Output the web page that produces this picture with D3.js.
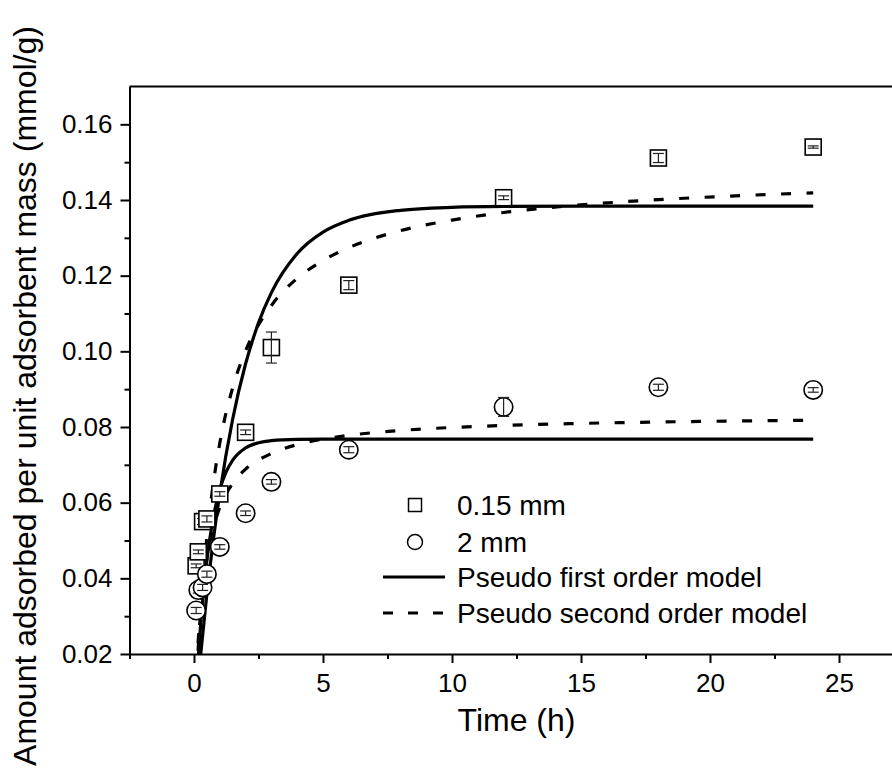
<!DOCTYPE html>
<html>
<head>
<meta charset="utf-8">
<script src="https://cdn.jsdelivr.net/npm/d3@7"></script>
<style>
  body { margin: 0; background: #fff; }
  svg text { font-family: "Liberation Sans", Arial, sans-serif; fill: #000; }
  .axis line, .axis path { stroke: #000; stroke-width: 2; }
</style>
</head>
<body>
<div id="chart"></div>
<script>
// ---------------------------------------------------------------------------
// Data
// ---------------------------------------------------------------------------

// sampling times (h), same for both particle sizes
var sampleTimes = [0.083, 0.167, 0.333, 0.5, 1, 2, 3, 6, 12, 18, 24];

// 0.15 mm particles (squares)
var fineQ   = [0.0433, 0.0470, 0.0550, 0.0557, 0.0623, 0.0786, 0.1010, 0.1175, 0.1406, 0.1511, 0.1540];
var fineErr = [0.0005, 0.0005, 0.0008, 0.0008, 0.0006, 0.0006, 0.0041, 0.0012, 0.0005, 0.0012, 0.0003];

// 2 mm particles (circles)
var coarseQ   = [0.0315, 0.0369, 0.0376, 0.0411, 0.0483, 0.0572, 0.0655, 0.0740, 0.0853, 0.0905, 0.0898];
var coarseErr = [0.0008, 0.0008, 0.0008, 0.0008, 0.0006, 0.0006, 0.0006, 0.0008, 0.0025, 0.0008, 0.0006];

// pseudo first order fits (solid)
var pfoFineT = [0.2, 0.25, 0.5, 0.75, 1, 1.5, 2, 2.5, 3, 4, 5, 6, 8, 10, 12, 15, 18, 24];
var pfoFineQ = [0.01565, 0.01928, 0.03587, 0.05016, 0.06245, 0.08213, 0.09671, 0.10752, 0.11552,
                0.12585, 0.13151, 0.13462, 0.13727, 0.13806, 0.13830, 0.13838, 0.13840, 0.13840];
var pfoCoarseT = [0.1, 0.25, 0.5, 0.75, 1, 1.25, 1.5, 2, 2.5, 3, 4, 5, 12, 24];
var pfoCoarseQ = [0.01233, 0.02722, 0.04478, 0.05613, 0.06345, 0.06818, 0.07124, 0.07448, 0.07583,
                  0.07640, 0.07673, 0.07680, 0.07680, 0.07680];

// pseudo second order fits (dashed)
var psoFineT = [0.1, 0.2, 0.3, 0.5, 0.75, 1, 1.5, 2, 3, 4, 5, 6, 8, 10, 12, 15, 18, 21, 24];
var psoFineQ = [0.01409, 0.02572, 0.03549, 0.05097, 0.06519, 0.07576, 0.09042, 0.10010, 0.11210, 0.11930,
                0.12400, 0.12740, 0.13190, 0.13470, 0.13670, 0.13870, 0.14010, 0.14110, 0.14190];
var psoCoarseT = [0.1, 0.15, 0.25, 0.5, 0.75, 1, 1.5, 2, 3, 4, 5, 6, 8, 10, 12, 15, 18, 21, 24];
var psoCoarseQ = [0.0161, 0.02202, 0.0312, 0.04538, 0.05349, 0.05873, 0.06511, 0.06886, 0.0730, 0.07535,
                  0.0768, 0.0778, 0.07908, 0.07987, 0.0804, 0.08095, 0.08132, 0.08158, 0.08179];

var xMajorTicks = [0, 5, 10, 15, 20, 25];
var xMinorTicks = [-2.5, 2.5, 7.5, 12.5, 17.5, 22.5];
var yMajorTicks = [0.02, 0.04, 0.06, 0.08, 0.10, 0.12, 0.14, 0.16];
var yMinorTicks = [0.03, 0.05, 0.07, 0.09, 0.11, 0.13, 0.15];

var legendLabels = ["0.15 mm", "2 mm", "Pseudo first order model", "Pseudo second order model"];

// ---------------------------------------------------------------------------
// Drawing
// ---------------------------------------------------------------------------

var W = 892, H = 771;

var xScale = d3.scaleLinear().domain([-2.5, 27.5]).range([129.5, 903.5]);
var yScale = d3.scaleLinear().domain([0.02, 0.17]).range([654, 86.5]);

var svg = d3.select("#chart").append("svg")
    .attr("width", W)
    .attr("height", H);

svg.append("defs").append("clipPath")
    .attr("id", "plot-clip")
  .append("rect")
    .attr("x", xScale(-2.5))
    .attr("y", yScale(0.17))
    .attr("width", xScale(27.5) - xScale(-2.5))
    .attr("height", yScale(0.02) - yScale(0.17));

// minor ticks first, majors with labels on top
svg.append("g")
    .attr("class", "axis")
    .attr("transform", "translate(0," + yScale(0.02) + ")")
    .call(d3.axisBottom(xScale).tickValues(xMinorTicks).tickSize(5).tickSizeOuter(0).tickFormat(""))
    .select(".domain").remove();

var xAxis = svg.append("g")
    .attr("class", "axis")
    .attr("transform", "translate(0," + yScale(0.02) + ")")
    .call(d3.axisBottom(xScale).tickValues(xMajorTicks).tickSize(9).tickSizeOuter(0).tickPadding(11));
xAxis.selectAll("text").style("font-size", "26px");

svg.append("g")
    .attr("class", "axis")
    .attr("transform", "translate(" + xScale(-2.5) + ",0)")
    .call(d3.axisLeft(yScale).tickValues(yMinorTicks).tickSize(5).tickSizeOuter(0).tickFormat(""))
    .select(".domain").remove();

var yAxis = svg.append("g")
    .attr("class", "axis")
    .attr("transform", "translate(" + xScale(-2.5) + ",0)")
    .call(d3.axisLeft(yScale).tickValues(yMajorTicks).tickSize(9).tickSizeOuter(0).tickPadding(8)
      .tickFormat(d3.format(".2f")));
yAxis.selectAll("text").style("font-size", "26px");

// top frame line
svg.append("line")
    .attr("x1", xScale(-2.5))
    .attr("x2", xScale(27.5))
    .attr("y1", yScale(0.17))
    .attr("y2", yScale(0.17))
    .attr("stroke", "#000")
    .attr("stroke-width", 2);

// axis titles
svg.append("text")
    .attr("x", (xScale(-2.5) + xScale(27.5)) / 2)
    .attr("y", 731)
    .attr("text-anchor", "middle")
    .style("font-size", "32px")
    .text("Time (h)");

svg.append("text")
    .attr("transform", "translate(36," + 396 + ") rotate(-90)")
    .attr("text-anchor", "middle")
    .style("font-size", "32px")
    .text("Amount adsorbed per unit adsorbent mass (mmol/g)");

// model curves
var line = d3.line()
    .x(function(d) { return xScale(d[0]); })
    .y(function(d) { return yScale(d[1]); })
    .curve(d3.curveMonotoneX);

var curves = [
  {t: pfoFineT, q: pfoFineQ, dash: null},
  {t: pfoCoarseT, q: pfoCoarseQ, dash: null},
  {t: psoFineT, q: psoFineQ, dash: "10,15.5"},
  {t: psoCoarseT, q: psoCoarseQ, dash: "10,15.5"}
];

var curveLayer = svg.append("g").attr("clip-path", "url(#plot-clip)");
curves.forEach(function(c) {
  curveLayer.append("path")
      .datum(d3.zip(c.t, c.q))
      .attr("d", line)
      .attr("fill", "none")
      .attr("stroke", "#000")
      .attr("stroke-width", 3.2)
      .attr("stroke-dasharray", c.dash);
});

// data points with error bars
function drawSeries(values, errs, shape) {
  var g = svg.append("g");
  sampleTimes.forEach(function(t, i) {
    var cx = xScale(t), cy = yScale(values[i]);
    if (shape == "square") {
      g.append("rect")
          .attr("x", cx - 8).attr("y", cy - 8)
          .attr("width", 16).attr("height", 16)
          .attr("fill", "#fff").attr("stroke", "#000").attr("stroke-width", 1.6);
    } else {
      g.append("circle")
          .attr("cx", cx).attr("cy", cy).attr("r", 9.2)
          .attr("fill", "#fff").attr("stroke", "#000").attr("stroke-width", 1.6);
    }
    var top = yScale(values[i] + errs[i]), bot = yScale(values[i] - errs[i]);
    g.append("line").attr("x1", cx).attr("x2", cx).attr("y1", top).attr("y2", bot)
        .attr("stroke", "#222").attr("stroke-width", 1.2);
    g.append("line").attr("x1", cx - 5.5).attr("x2", cx + 5.5).attr("y1", top).attr("y2", top)
        .attr("stroke", "#222").attr("stroke-width", 1.2);
    g.append("line").attr("x1", cx - 5.5).attr("x2", cx + 5.5).attr("y1", bot).attr("y2", bot)
        .attr("stroke", "#222").attr("stroke-width", 1.2);
  });
}

drawSeries(fineQ, fineErr, "square");
drawSeries(coarseQ, coarseErr, "circle");

// legend
var legend = svg.append("g");
var rowY = [505, 542, 577, 613];
legend.append("rect")
    .attr("x", 408.5).attr("y", rowY[0] - 6.5).attr("width", 13).attr("height", 13)
    .attr("fill", "#fff").attr("stroke", "#000").attr("stroke-width", 1.5);
legend.append("circle")
    .attr("cx", 415).attr("cy", rowY[1]).attr("r", 7.5)
    .attr("fill", "#fff").attr("stroke", "#000").attr("stroke-width", 1.5);
legend.append("line")
    .attr("x1", 383).attr("x2", 445).attr("y1", rowY[2]).attr("y2", rowY[2])
    .attr("stroke", "#000").attr("stroke-width", 3);
legend.append("line")
    .attr("x1", 383).attr("x2", 445).attr("y1", rowY[3]).attr("y2", rowY[3])
    .attr("stroke", "#000").attr("stroke-width", 3).attr("stroke-dasharray", "10,15");

legendLabels.forEach(function(label, i) {
  legend.append("text")
      .attr("x", 457)
      .attr("y", rowY[i] + 10)
      .style("font-size", "28px")
      .text(label);
});
</script>
</body>
</html>
